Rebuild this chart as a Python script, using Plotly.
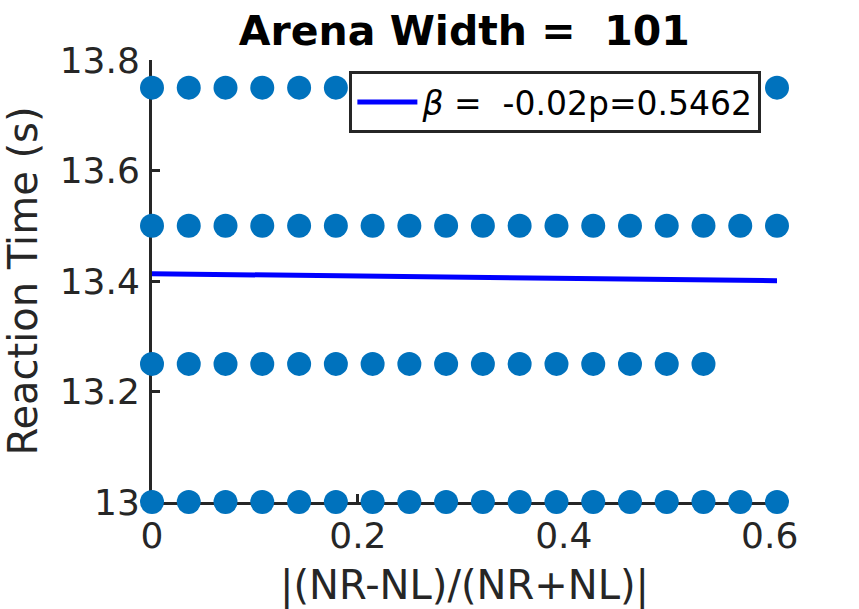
import plotly.graph_objects as go

# ---- data ----
ratio = [0.0, 0.0357, 0.0714, 0.1071, 0.1429, 0.1786, 0.2143, 0.25, 0.2857,
         0.3214, 0.3571, 0.3929, 0.4286, 0.4643, 0.5, 0.5357, 0.5714, 0.6071]
rt_levels = [13.75, 13.5, 13.25, 13.0]
points_per_level = [18, 18, 16, 18]
fit_x = [0.0, 0.6071]
fit_y = [13.4132, 13.4005]
x_ticks = [0, 0.2, 0.4, 0.6]
x_tick_labels = ["0", "0.2", "0.4", "0.6"]
y_ticks = [13, 13.2, 13.4, 13.6, 13.8]
y_tick_labels = ["13", "13.2", "13.4", "13.6", "13.8"]

px_, py_ = [], []
for lvl, n in zip(rt_levels, points_per_level):
    px_ += ratio[:n]
    py_ += [lvl] * n

font = "DejaVu Sans"
axc = "#262626"

fig = go.Figure()
fig.add_trace(go.Scatter(x=px_, y=py_, mode="markers", showlegend=False,
                         marker=dict(color="#0072BD", size=24, line=dict(width=0)),
                         cliponaxis=False))
fig.add_trace(go.Scatter(x=fit_x, y=fit_y, mode="lines",
                         name="<i>β</i> =\u00a0\u00a0-0.02p=0.5462",
                         line=dict(color="#0000FF", width=5), cliponaxis=False))

fig.update_layout(
    width=859, height=609,
    margin=dict(l=152, r=82, t=60, b=107),
    paper_bgcolor="white", plot_bgcolor="white",
    font=dict(family=font, color=axc),
    title=dict(text="<b>Arena Width =\u00a0\u00a0101</b>", x=0.5405, xanchor="center",
               y=0.949, yanchor="middle", font=dict(size=41, color="black", family=font)),
    legend=dict(x=0.975, xanchor="right", y=0.975, yanchor="top",
                bgcolor="white", bordercolor=axc, borderwidth=3, itemwidth=60,
                font=dict(size=33, color="black", family=font)),
    xaxis=dict(range=[0, 0.6071], tickvals=x_ticks, ticktext=x_tick_labels,
               showgrid=False, zeroline=False, showline=True, linecolor=axc, linewidth=3,
               ticks="inside", ticklen=8, tickwidth=3, tickcolor=axc, automargin=False,
               tickfont=dict(size=36, color=axc), layer="below traces", ticklabelstandoff=0,
               title=dict(text="|(NR-NL)/(NR+NL)|", font=dict(size=40, color=axc), standoff=16)),
    yaxis=dict(range=[13, 13.8], tickvals=y_ticks, ticktext=y_tick_labels,
               showgrid=False, zeroline=False, showline=True, linecolor=axc, linewidth=3,
               ticks="inside", ticklen=8, tickwidth=3, tickcolor=axc, automargin=False,
               tickfont=dict(size=36, color=axc), layer="below traces", ticklabelstandoff=2,
               title=dict(text="Reaction Time (s)", font=dict(size=40, color=axc), standoff=14)),
)
fig.write_html("out.html", config={"displayModeBar": False},
               post_script="document.body.style.margin='0px';")
